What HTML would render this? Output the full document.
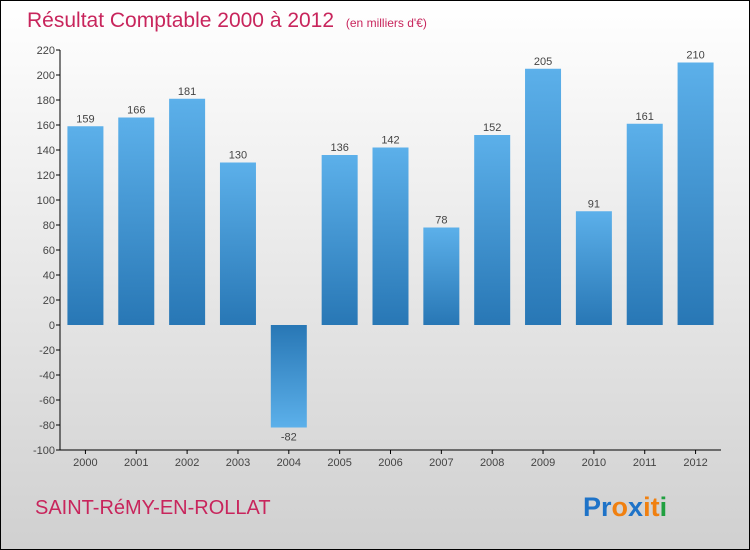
<!DOCTYPE html>
<html><head><meta charset="utf-8"><style>
body{margin:0}
svg{display:block;font-family:"Liberation Sans",sans-serif}
</style></head><body>
<svg id="c" width="750" height="550" xmlns="http://www.w3.org/2000/svg">
<defs>
<linearGradient id="bg" x1="0" y1="0" x2="0" y2="1"><stop offset="0" stop-color="#ffffff"/><stop offset="1" stop-color="#d0d0d0"/></linearGradient>
<linearGradient id="gp" x1="0" y1="0" x2="0" y2="1"><stop offset="0" stop-color="#5cb0ea"/><stop offset="1" stop-color="#2877b5"/></linearGradient>
<linearGradient id="gn" x1="0" y1="0" x2="0" y2="1"><stop offset="0" stop-color="#2877b5"/><stop offset="1" stop-color="#5cb0ea"/></linearGradient>
</defs>
<rect x="0.5" y="0.5" width="749" height="549" fill="url(#bg)" stroke="#000"/>
<text x="27" y="27" font-size="21" fill="#c8255c">Résultat Comptable 2000 à 2012 <tspan font-size="12" dx="6">(en milliers d'€)</tspan></text>
<g id="axes"></g><g id="bars"></g>
<text x="35" y="514" font-size="20" fill="#c8255c">SAINT-RéMY-EN-ROLLAT</text>
<text x="583" y="516" font-size="27" font-weight="bold"><tspan fill="#1e73c8">Pr</tspan><tspan fill="#f08010">o</tspan><tspan fill="#1e73c8">x</tspan><tspan fill="#f08010">it</tspan><tspan fill="#20a040">i</tspan></text>
</svg>
<script>
const years=["2000","2001","2002","2003","2004","2005","2006","2007","2008","2009","2010","2011","2012"];
const values=[159,166,181,130,-82,136,142,78,152,205,91,161,210];
const yTicks=[-100,-80,-60,-40,-20,0,20,40,60,80,100,120,140,160,180,200,220];
const NS="http://www.w3.org/2000/svg";
const x0=60,x1=721,bw=(x1-x0)/years.length;
const y=v=>325-v*1.25;
const xc=i=>x0+bw*(i+0.5);
function mk(t,a,p,txt){const e=document.createElementNS(NS,t);for(const k in a)e.setAttribute(k,a[k]);if(txt!=null)e.textContent=txt;p.appendChild(e);return e;}
const ax=document.getElementById('axes'),bg=document.getElementById('bars');
let l=mk('line',{x1:x0,y1:y(220),x2:x0,y2:y(-100),stroke:'#000'},ax);


l=mk('line',{x1:x0,y1:y(-100),x2:x1,y2:y(-100),stroke:'#000'},ax);


yTicks.forEach(v=>{
 mk('line',{x1:x0-4,y1:y(v),x2:x0,y2:y(v),stroke:'#000'},ax);
 const t=mk('text',{x:x0-5,y:y(v)+4,'font-size':11,'text-anchor':'end',fill:'#444'},ax,String(v));
 
 
});
years.forEach((yr,i)=>{
 mk('line',{x1:xc(i),y1:y(-100),x2:xc(i),y2:y(-100)+4,stroke:'#000'},ax);
 const t=mk('text',{x:xc(i),y:y(-100)+16,'font-size':11,'text-anchor':'middle',fill:'#444'},ax,yr);
 
 
 const v=values[i],top=Math.min(y(v),y(0)),h=Math.abs(y(v)-y(0));
 const r=mk('rect',{x:xc(i)-18,y:top,width:36,height:h,fill:v>=0?'url(#gp)':'url(#gn)'},bg);
 
 
 const lb=mk('text',{x:xc(i),y:v>=0?y(v)-4:y(v)+13,'font-size':11,'text-anchor':'middle',fill:'#444'},bg,String(v));
 
 
});
</script>
</body></html>
